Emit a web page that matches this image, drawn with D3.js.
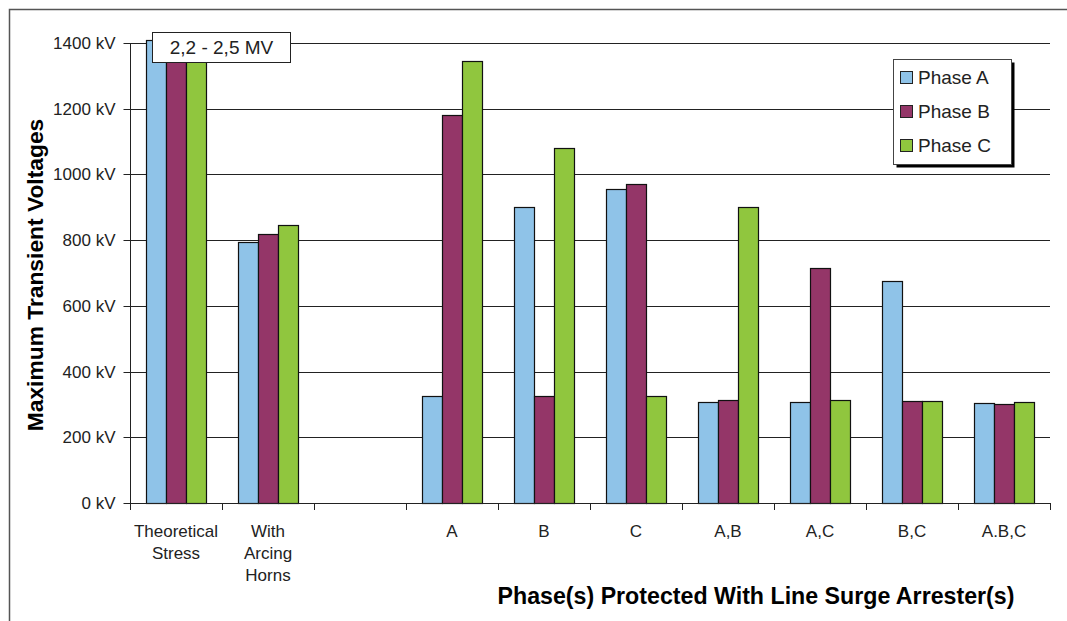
<!DOCTYPE html>
<html>
<head>
<meta charset="utf-8">
<script src="https://cdn.jsdelivr.net/npm/d3@7"></script>
<style>
  body { margin: 0; background: #fff; }
  text { font-family: "Liberation Sans", Arial, sans-serif; fill: #222; }
</style>
</head>
<body>
<div id="chart"></div>
<script>
// categories (third slot is an empty spacer in the original)
var categories = ["Theoretical\nStress", "With\nArcing\nHorns", "", "A", "B", "C", "A,B", "A,C", "B,C", "A.B,C"];
var seriesNames = ["Phase A", "Phase B", "Phase C"];
var seriesColors = ["#8fc3e8", "#943668", "#90c63e"];

// kV values (theoretical stress runs off the top: 2,2 - 2,5 MV)
var phaseA = [2200, 793, null, 325, 900, 957, 306, 306, 676, 303];
var phaseB = [2350, 818, null, 1180, 325, 971, 313, 715, 310, 302];
var phaseC = [2500, 846, null, 1345, 1080, 325, 901, 313, 310, 306];

var yTicks = [0, 200, 400, 600, 800, 1000, 1200, 1400];
var note = "2,2 - 2,5 MV";

var svgWidth = 1067;
var svgHeight = 621;

var svg = d3.select("#chart")
  .append("svg")
  .attr("width", svgWidth)
  .attr("height", svgHeight);

// outer chart frame (only top and left show in the picture)
svg.append("path")
  .attr("d", "M9.5,621 L9.5,9.5 L1067,9.5")
  .attr("fill", "none")
  .attr("stroke", "#555")
  .attr("stroke-width", 1.5);

// scales
var x0 = d3.scaleBand()
  .domain(d3.range(categories.length))
  .range([130, 1050]);

var x1 = d3.scaleBand()
  .domain(seriesNames)
  .range([0, x0.bandwidth()])
  .paddingOuter(0.8);

var y = d3.scaleLinear()
  .domain([0, 1410])
  .range([503, 39.7])
  .clamp(true);

// gridlines
svg.append("g").selectAll("line")
  .data(yTicks.slice(1))
  .enter().append("line")
  .attr("x1", 130).attr("x2", 1050)
  .attr("y1", d => Math.round(y(d)) + 0.5)
  .attr("y2", d => Math.round(y(d)) + 0.5)
  .attr("stroke", "#222");

// y axis
var yAxis = d3.axisLeft(y)
  .tickValues(yTicks)
  .tickSize(7)
  .tickSizeOuter(0)
  .tickPadding(8)
  .tickFormat(d => d + " kV");

var yG = svg.append("g")
  .attr("transform", "translate(130.5,0.5)")
  .call(yAxis);
yG.select(".domain").remove();
yG.selectAll(".tick line").attr("stroke", "#222");
yG.selectAll(".tick").attr("transform", d => `translate(0,${Math.round(y(d))})`);
yG.selectAll("text")
  .attr("font-size", "17px")
  .attr("font-family", "Liberation Sans, Arial, sans-serif")
  .attr("fill", "#222");

svg.append("line")
  .attr("x1", 130.5).attr("x2", 130.5)
  .attr("y1", Math.round(y(1400)) + 0.5)
  .attr("y2", Math.round(y(0)) + 0.5)
  .attr("stroke", "#222");

// bars
var rows = categories.map(function(c, i) {
  return { i: i, vals: [phaseA[i], phaseB[i], phaseC[i]] };
});

var groups = svg.append("g").selectAll("g")
  .data(rows)
  .enter().append("g")
  .attr("transform", d => `translate(${x0(d.i)},0)`);

groups.selectAll("rect")
  .data(d => d.vals.map((v, k) => ({ name: seriesNames[k], k: k, v: v })).filter(e => e.v != null))
  .enter().append("rect")
  .attr("x", d => x1(d.name) + 0.5)
  .attr("y", d => Math.round(y(d.v)) + 0.5)
  .attr("width", x1.bandwidth())
  .attr("height", d => Math.round(y(0)) - Math.round(y(d.v)))
  .attr("fill", d => seriesColors[d.k])
  .attr("stroke", "#111")
  .attr("stroke-width", 1.2);

// x axis line + boundary ticks
svg.append("line")
  .attr("x1", 130).attr("x2", 1050.5)
  .attr("y1", Math.round(y(0)) + 0.5)
  .attr("y2", Math.round(y(0)) + 0.5)
  .attr("stroke", "#222");

var bounds = d3.range(categories.length).map(i => x0(i)).concat([x0.range()[1]]);
svg.append("g").selectAll("line")
  .data(bounds)
  .enter().append("line")
  .attr("x1", d => Math.round(d) + 0.5)
  .attr("x2", d => Math.round(d) + 0.5)
  .attr("y1", Math.round(y(0)))
  .attr("y2", Math.round(y(0)) + 7)
  .attr("stroke", "#222");

// category labels
var catLabels = svg.append("g").selectAll("text")
  .data(categories)
  .enter().append("text")
  .attr("x", (d, i) => x0(i) + x0.bandwidth() / 2)
  .attr("y", 537)
  .attr("text-anchor", "middle")
  .attr("font-size", "17px");

catLabels.each(function(d, i) {
  var t = d3.select(this);
  d.split("\n").forEach(function(line, j) {
    t.append("tspan")
      .attr("x", x0(i) + x0.bandwidth() / 2)
      .attr("dy", j === 0 ? 0 : 22)
      .text(line);
  });
});

// axis titles
svg.append("text")
  .attr("transform", "translate(43,275) rotate(-90)")
  .attr("text-anchor", "middle")
  .attr("font-size", "22.8px")
  .attr("font-weight", "bold")
  .style("fill", "#000")
  .text("Maximum Transient Voltages");

svg.append("text")
  .attr("x", 756)
  .attr("y", 604)
  .attr("text-anchor", "middle")
  .attr("font-size", "23.2px")
  .attr("font-weight", "bold")
  .style("fill", "#000")
  .text("Phase(s) Protected With Line Surge Arrester(s)");

// annotation box for the off-scale bars
svg.append("rect")
  .attr("x", 152.5).attr("y", 32.5)
  .attr("width", 138).attr("height", 30)
  .attr("fill", "#fff")
  .attr("stroke", "#222");

svg.append("text")
  .attr("x", 221.5)
  .attr("y", 54)
  .attr("text-anchor", "middle")
  .attr("font-size", "19px")
  .text(note);

// legend
var legend = svg.append("g").attr("transform", "translate(893,59)");
legend.append("rect")
  .attr("x", 3.5).attr("y", 3.5)
  .attr("width", 118).attr("height", 105)
  .attr("fill", "#000");
legend.append("rect")
  .attr("x", 0.5).attr("y", 0.5)
  .attr("width", 118).attr("height", 105)
  .attr("fill", "#fff")
  .attr("stroke", "#444");

var items = legend.selectAll("g.item")
  .data(seriesNames)
  .enter().append("g")
  .attr("class", "item")
  .attr("transform", (d, i) => `translate(0,${18 + i * 34})`);

items.append("rect")
  .attr("x", 7.5).attr("y", -5.5)
  .attr("width", 12).attr("height", 12)
  .attr("fill", (d, i) => seriesColors[i])
  .attr("stroke", "#222");

items.append("text")
  .attr("x", 25)
  .attr("y", 6.5)
  .attr("font-size", "19px")
  .text(d => d);
</script>
</body>
</html>
